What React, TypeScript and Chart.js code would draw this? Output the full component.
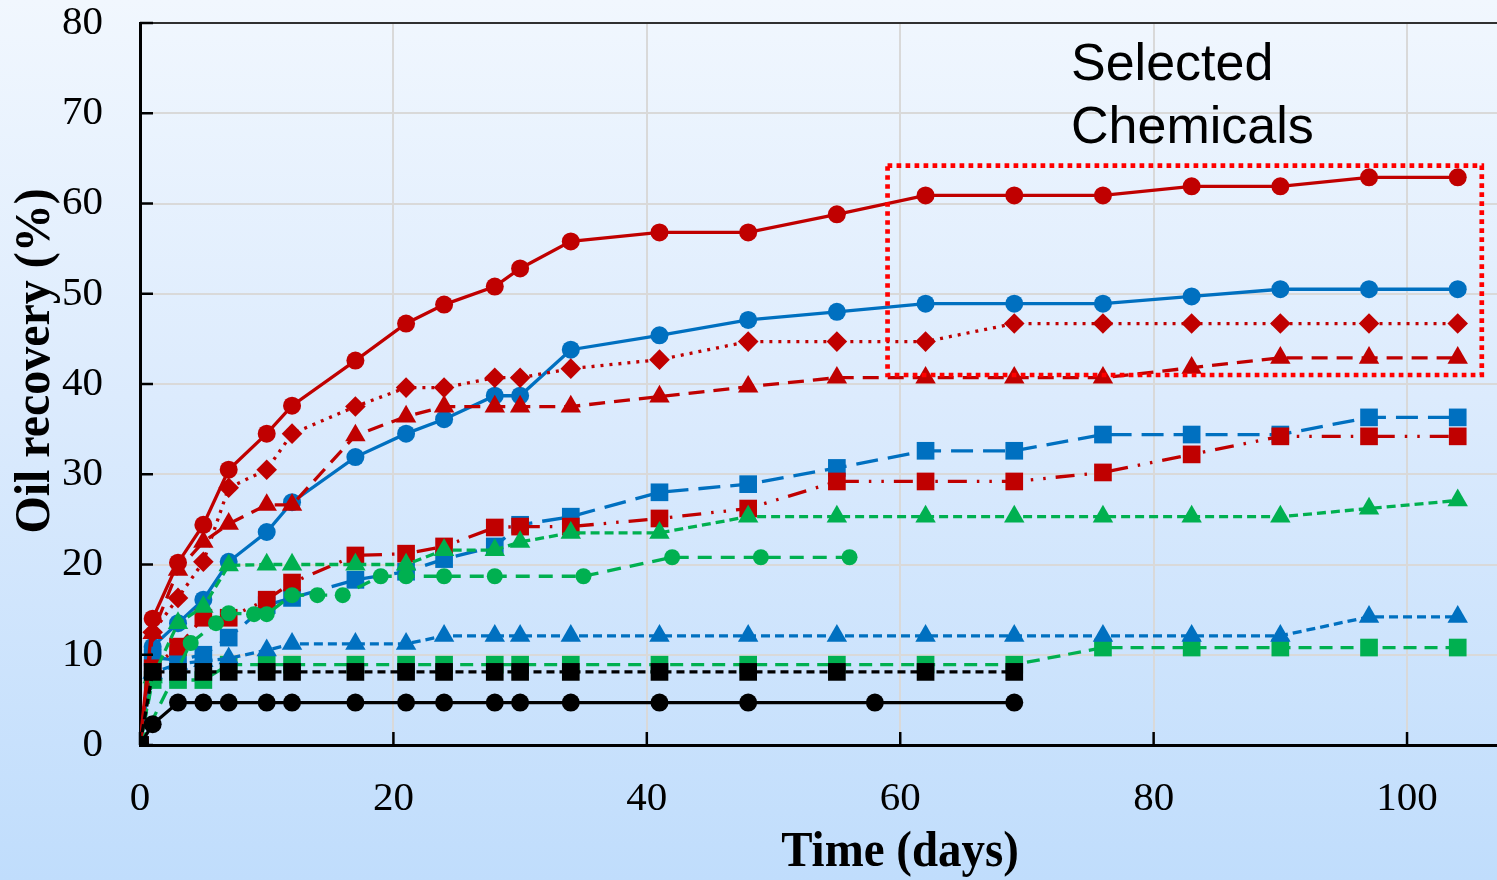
import React, { useEffect, useRef } from "react";
import { Chart, registerables } from "chart.js";

Chart.register(...registerables);

// ---------- data ----------
const days = [0, 1, 3, 5, 7, 10, 12, 17, 21, 24, 28, 30, 34, 41, 48, 55, 62, 69, 76, 83, 90, 97, 104];

const redCircle = [0, 14, 20.2, 24.4, 30.5, 34.5, 37.6, 42.6, 46.7, 48.8, 50.8, 52.8, 55.8, 56.8, 56.8, 58.8, 60.9, 60.9, 60.9, 61.9, 61.9, 62.9, 62.9];
const blueCircle = [0, 10.9, 13.5, 16.1, 20.3, 23.6, 26.9, 31.9, 34.5, 36.1, 38.7, 38.7, 43.8, 45.4, 47.1, 48.0, 48.9, 48.9, 48.9, 49.7, 50.5, 50.5, 50.5];
const redDiamond = [0, 12.5, 16.3, 20.3, 28.5, 30.5, 34.5, 37.5, 39.6, 39.6, 40.7, 40.7, 41.7, 42.7, 44.7, 44.7, 44.7, 46.7, 46.7, 46.7, 46.7, 46.7, 46.7];
const redTriangle = [0, 12.4, 19.4, 22.5, 24.5, 26.6, 26.6, 34.3, 36.4, 37.5, 37.5, 37.5, 37.5, 38.6, 39.7, 40.7, 40.7, 40.7, 40.7, 41.8, 42.9, 42.9, 42.9];
const blueSquare = [0, 9.7, 9.4, 10, 11.9, 15.5, 16.3, 18.3, 19.2, 20.6, 22, 24.4, 25.3, 28.0, 28.9, 30.7, 32.6, 32.6, 34.4, 34.4, 34.4, 36.3, 36.3];
const redSquare = [0, 8.5, 10.9, 14.1, 14.1, 16.1, 18, 21, 21.2, 22, 24.1, 24.2, 24.2, 25.1, 26.2, 29.2, 29.2, 29.2, 30.2, 32.2, 34.2, 34.2, 34.2];
const greenTriangle = [0, 7.5, 13.5, 15.3, 19.9, 20, 20, 20, 20, 21.6, 21.6, 22.5, 23.5, 23.5, 25.3, 25.3, 25.3, 25.3, 25.3, 25.3, 25.3, 26.2, 27.1];
const blueTriangle = [0, 8, 9, 9.3, 9.6, 10.5, 11.2, 11.2, 11.2, 12.1, 12.1, 12.1, 12.1, 12.1, 12.1, 12.1, 12.1, 12.1, 12.1, 12.1, 12.1, 14.2, 14.2];
const greenSquare = [0, 7.2, 7.2, 7.2, 8.9, 8.9, 8.9, 8.9, 8.9, 8.9, 8.9, 8.9, 8.9, 8.9, 8.9, 8.9, 8.9, 8.9, 10.8, 10.8, 10.8, 10.8, 10.8];

const greenCircleDays = [0, 4, 6, 7, 9, 10, 12, 14, 16, 19, 21, 24, 28, 35, 42, 49, 56];
const greenCircle = [0, 11.3, 13.5, 14.6, 14.5, 14.5, 16.6, 16.6, 16.6, 18.7, 18.7, 18.7, 18.7, 18.7, 20.8, 20.8, 20.8];

const blackSquareDays = [0, 1, 3, 5, 7, 10, 12, 17, 21, 24, 28, 30, 34, 41, 48, 55, 62, 69];
const blackSquare = [0, 8.1, 8.1, 8.1, 8.1, 8.1, 8.1, 8.1, 8.1, 8.1, 8.1, 8.1, 8.1, 8.1, 8.1, 8.1, 8.1, 8.1];

const blackCircleDays = [0, 1, 3, 5, 7, 10, 12, 17, 21, 24, 28, 30, 34, 41, 48, 58, 69];
const blackCircle = [0, 2.3, 4.7, 4.7, 4.7, 4.7, 4.7, 4.7, 4.7, 4.7, 4.7, 4.7, 4.7, 4.7, 4.7, 4.7, 4.7];

const xTicks = [0, 20, 40, 60, 80, 100];
const yTicks = [0, 10, 20, 30, 40, 50, 60, 70, 80];

const boxDays = [59, 105.9];
const boxRecovery = [41, 64.2];

const xTitle = "Time (days)";
const yTitle = "Oil recovery (%)";
const noteLines = ["Selected", "Chemicals"];

// ---------- styles ----------
const RED = "#c00000";
const BLUE = "#0070c0";
const GREEN = "#00b050";
const BLACK = "#000000";
const SERIF = "'Liberation Serif', 'Times New Roman', serif";
const SANS = "'Liberation Sans', Arial, sans-serif";

const pts = (xs: number[], ys: number[]) => xs.map((x, i) => ({ x, y: ys[i] }));

function ds(label: string, xs: number[], ys: number[], color: string, pointStyle: string, radius: number, dash: number[], order: number) {
  return {
    label,
    data: pts(xs, ys),
    borderColor: color,
    backgroundColor: color,
    pointBackgroundColor: color,
    pointBorderColor: color,
    pointBorderWidth: 0,
    pointStyle,
    pointRadius: radius,
    borderWidth: 3.3,
    borderDash: dash,
    tension: 0,
    order,
  };
}

const noPad = (axis: any) => {
  axis.paddingTop = 0;
  axis.paddingBottom = 0;
  axis.paddingLeft = 0;
  axis.paddingRight = 0;
};

const decoPlugin = {
  id: "deco",
  afterDatasetsDraw(chart: any) {
    const { ctx, scales } = chart;
    const x = scales.x;
    const y = scales.y;
    ctx.save();
    ctx.strokeStyle = "#ff0000";
    ctx.lineWidth = 4.7;
    ctx.setLineDash([4.7, 4.3]);
    const l = x.getPixelForValue(boxDays[0]);
    const r = x.getPixelForValue(boxDays[1]);
    const t = y.getPixelForValue(boxRecovery[1]);
    const b = y.getPixelForValue(boxRecovery[0]);
    ctx.strokeRect(l, t, r - l, b - t);
    ctx.restore();
  },
  afterDraw(chart: any) {
    const { ctx, scales, chartArea } = chart;
    const x = scales.x;
    const y = scales.y;
    ctx.save();
    // inward tick marks
    ctx.strokeStyle = "#000";
    ctx.lineWidth = 2.5;
    ctx.setLineDash([]);
    yTicks.forEach((v) => {
      const py = y.getPixelForValue(v);
      ctx.beginPath();
      ctx.moveTo(chartArea.left, py);
      ctx.lineTo(chartArea.left + 13, py);
      ctx.stroke();
    });
    xTicks.forEach((v) => {
      const px = x.getPixelForValue(v);
      ctx.beginPath();
      ctx.moveTo(px, chartArea.bottom);
      ctx.lineTo(px, chartArea.bottom - 13);
      ctx.stroke();
    });

    // axis titles
    ctx.fillStyle = "#000";
    ctx.font = `bold 51px ${SERIF}`;
    ctx.textAlign = "center";
    ctx.textBaseline = "middle";
    ctx.save();
    ctx.translate(900, 853);
    ctx.scale(0.92, 1);
    ctx.fillText(xTitle, 0, 0);
    ctx.restore();

    ctx.save();
    ctx.translate(36, 361);
    ctx.rotate(-Math.PI / 2);
    ctx.scale(0.94, 1);
    ctx.fillText(yTitle, 0, 0);
    ctx.restore();

    // annotation
    ctx.font = `52px ${SANS}`;
    ctx.textAlign = "left";
    ctx.textBaseline = "alphabetic";
    ctx.fillText(noteLines[0], 1071, 80);
    ctx.fillText(noteLines[1], 1071, 143);
    ctx.restore();
  },
};

export default function App() {
  const ref = useRef<HTMLCanvasElement | null>(null);

  useEffect(() => {
    document.body.style.margin = "0";
    const canvas = ref.current;
    if (!canvas) return;
    const chart = new Chart(canvas, {
      type: "line",
      data: {
        datasets: [
          ds("Black square", blackSquareDays, blackSquare, BLACK, "rect", 12.5, [8, 5], 1),
          ds("Black circle", blackCircleDays, blackCircle, BLACK, "circle", 9, [], 2),
          ds("Red circle", days, redCircle, RED, "circle", 9, [], 3),
          ds("Red diamond", days, redDiamond, RED, "rectRot", 10.3, [3, 6], 4),
          ds("Red triangle", days, redTriangle, RED, "triangle", 11.8, [16, 9], 5),
          ds("Green triangle", days, greenTriangle, GREEN, "triangle", 11.8, [9, 5], 6),
          ds("Green circle", greenCircleDays, greenCircle, GREEN, "circle", 8, [14, 9], 7),
          ds("Red square", days, redSquare, RED, "rect", 12.5, [19, 10, 2.5, 10, 2.5, 10], 8),
          ds("Blue circle", days, blueCircle, BLUE, "circle", 9, [], 9),
          ds("Blue square", days, blueSquare, BLUE, "rect", 12.5, [22, 10], 10),
          ds("Blue triangle", days, blueTriangle, BLUE, "triangle", 11.8, [9, 5], 11),
          ds("Green square", days, greenSquare, GREEN, "rect", 12.5, [13, 8], 12),
        ] as any,
      },
      options: {
        responsive: false,
        animation: false,
        events: [],
        layout: { autoPadding: false, padding: { top: 23, right: 0, left: 0, bottom: 0 } },
        plugins: {
          legend: { display: false },
          tooltip: { enabled: false },
        },
        scales: {
          x: {
            type: "linear",
            min: 0,
            max: 107.1,
            afterFit: (axis: any) => {
              axis.height = 135;
              noPad(axis);
            },
            border: { display: true, color: "#000", width: 3 },
            grid: { color: "#d9d9d9", lineWidth: 2, drawTicks: false },
            ticks: {
              stepSize: 20,
              includeBounds: false,
              padding: 34,
              color: "#000",
              font: { family: SERIF, size: 41, lineHeight: 1 },
              maxRotation: 0,
            },
          },
          y: {
            type: "linear",
            min: 0,
            max: 80,
            afterFit: (axis: any) => {
              axis.width = 140;
              noPad(axis);
            },
            border: { display: true, color: "#000", width: 3 },
            grid: {
              color: (c: any) => (c.tick && c.tick.value === 80 ? "#303030" : "#d9d9d9"),
              lineWidth: 2,
              drawTicks: false,
            },
            ticks: {
              stepSize: 10,
              padding: 37,
              color: "#000",
              font: { family: SERIF, size: 41, lineHeight: 1 },
            },
          },
        },
      } as any,
      plugins: [decoPlugin],
    });
    return () => chart.destroy();
  }, []);

  return (
    <div
      style={{
        width: 1497,
        height: 880,
        background: "linear-gradient(to bottom, #f1f7fe 0%, #dcebfd 45%, #c0ddfc 100%)",
        position: "relative",
        overflow: "hidden",
      }}
    >
      <canvas ref={ref} width={1497} height={880} style={{ display: "block" }} />
    </div>
  );
}
